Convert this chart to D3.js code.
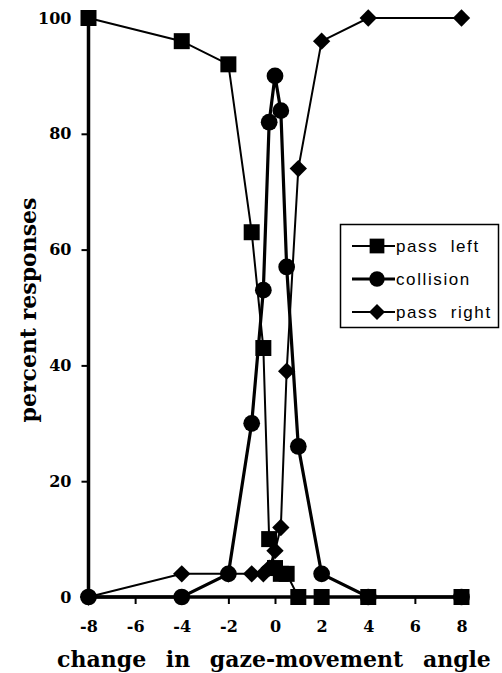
<!DOCTYPE html>
<html><head><meta charset="utf-8">
<script src="https://cdnjs.cloudflare.com/ajax/libs/d3/7.8.5/d3.min.js"></script>
<style>body{margin:0;background:#fff}svg{display:block}</style>
</head><body>
<script>
const xValues = [-8, -4, -2, -1, -0.5, -0.25, 0, 0.25, 0.5, 1, 2, 4, 8];
const passLeft = [100, 96, 92, 63, 43, 10, 5, 4, 4, 0, 0, 0, 0];
const collision = [0, 0, 4, 30, 53, 82, 90, 84, 57, 26, 4, 0, 0];
const passRight = [0, 4, 4, 4, 4, 5, 8, 12, 39, 74, 96, 100, 100];
const xTicks = [-8, -6, -4, -2, 0, 2, 4, 6, 8];
const yTicks = [0, 20, 40, 60, 80, 100];
const seriesNames = ["pass left", "collision", "pass right"];

const W = 502, H = 673;
const svg = d3.select("body").append("svg").attr("width", W).attr("height", H);
const x = d3.scaleLinear().domain([-8, 8]).range([88.5, 461.5]);
const y = d3.scaleLinear().domain([0, 100]).range([597, 18]);
const serif = "'DejaVu Serif', serif";
const sans = "'Liberation Sans', Arial, sans-serif";

// axes
const xAxis = svg.append("g").attr("transform", `translate(0,${y(0)})`)
  .call(d3.axisBottom(x).tickValues(xTicks).tickSize(7).tickPadding(17).tickFormat(d => String(d)));
xAxis.select(".domain").attr("d", `M${x(-8)},0H${x(8)}`).attr("stroke-width", 3.5);
xAxis.selectAll(".tick line").attr("stroke-width", 2);
xAxis.selectAll("text").attr("font-family", serif).attr("font-weight", "bold").attr("font-size", 16).attr("fill", "#000");

const yAxis = svg.append("g").attr("transform", `translate(${x(-8)},0)`)
  .call(d3.axisLeft(y).tickValues(yTicks).tickSize(7).tickPadding(10).tickFormat(d => String(d)));
yAxis.select(".domain").attr("d", `M0,${y(0)}V${y(100)}`).attr("stroke-width", 3.5);
yAxis.selectAll(".tick line").attr("stroke-width", 2);
yAxis.selectAll("text").attr("font-family", serif).attr("font-weight", "bold").attr("font-size", 16).attr("fill", "#000");

// titles
svg.append("text").attr("x", 274).attr("y", 667).attr("text-anchor", "middle")
  .attr("font-family", serif).attr("font-weight", "bold").attr("font-size", 22)
  .attr("word-spacing", 12).text("change in gaze-movement angle");
svg.append("text").attr("transform", `translate(36,310) rotate(-90)`).attr("text-anchor", "middle")
  .attr("font-family", serif).attr("font-weight", "bold").attr("font-size", 22)
  .text("percent responses");

// series
const diamond = {draw(ctx, size) { const r = Math.sqrt(size) / 2; ctx.moveTo(0, -r); ctx.lineTo(r, 0); ctx.lineTo(0, r); ctx.lineTo(-r, 0); ctx.closePath(); }};
const series = [
  {name: seriesNames[0], vals: passLeft, sym: d3.symbolSquare, size: 256, lw: 2},
  {name: seriesNames[1], vals: collision, sym: d3.symbolCircle, size: 220, lw: 3.2},
  {name: seriesNames[2], vals: passRight, sym: diamond, size: 300, lw: 2}
];
const line = d3.line().x(d => x(d[0])).y(d => y(d[1]));
series.forEach(s => {
  const pts = xValues.map((v, i) => [v, s.vals[i]]);
  svg.append("path").attr("d", line(pts)).attr("fill", "none").attr("stroke", "#000").attr("stroke-width", s.lw);
  svg.append("g").selectAll("path").data(pts).join("path")
    .attr("transform", d => `translate(${x(d[0])},${y(d[1])})`)
    .attr("d", d3.symbol(s.sym, s.size)).attr("fill", "#000");
});

// legend
const lg = svg.append("g");
lg.append("rect").attr("x", 340.5).attr("y", 224.5).attr("width", 158).attr("height", 103)
  .attr("fill", "#fff").attr("stroke", "#000").attr("stroke-width", 1.5);
const legY = [246, 279, 312];
series.forEach((s, i) => {
  lg.append("line").attr("x1", 352).attr("x2", 395).attr("y1", legY[i]).attr("y2", legY[i])
    .attr("stroke", "#000").attr("stroke-width", s.lw);
  lg.append("path").attr("transform", `translate(377,${legY[i]})`).attr("d", d3.symbol(s.sym, s.size * 0.85)).attr("fill", "#000");
  lg.append("text").attr("x", 396).attr("y", legY[i] + 6).attr("font-family", sans).attr("font-size", 17)
    .attr("letter-spacing", 1.6).attr("word-spacing", 6).text(s.name);
});
</script>
</body></html>
